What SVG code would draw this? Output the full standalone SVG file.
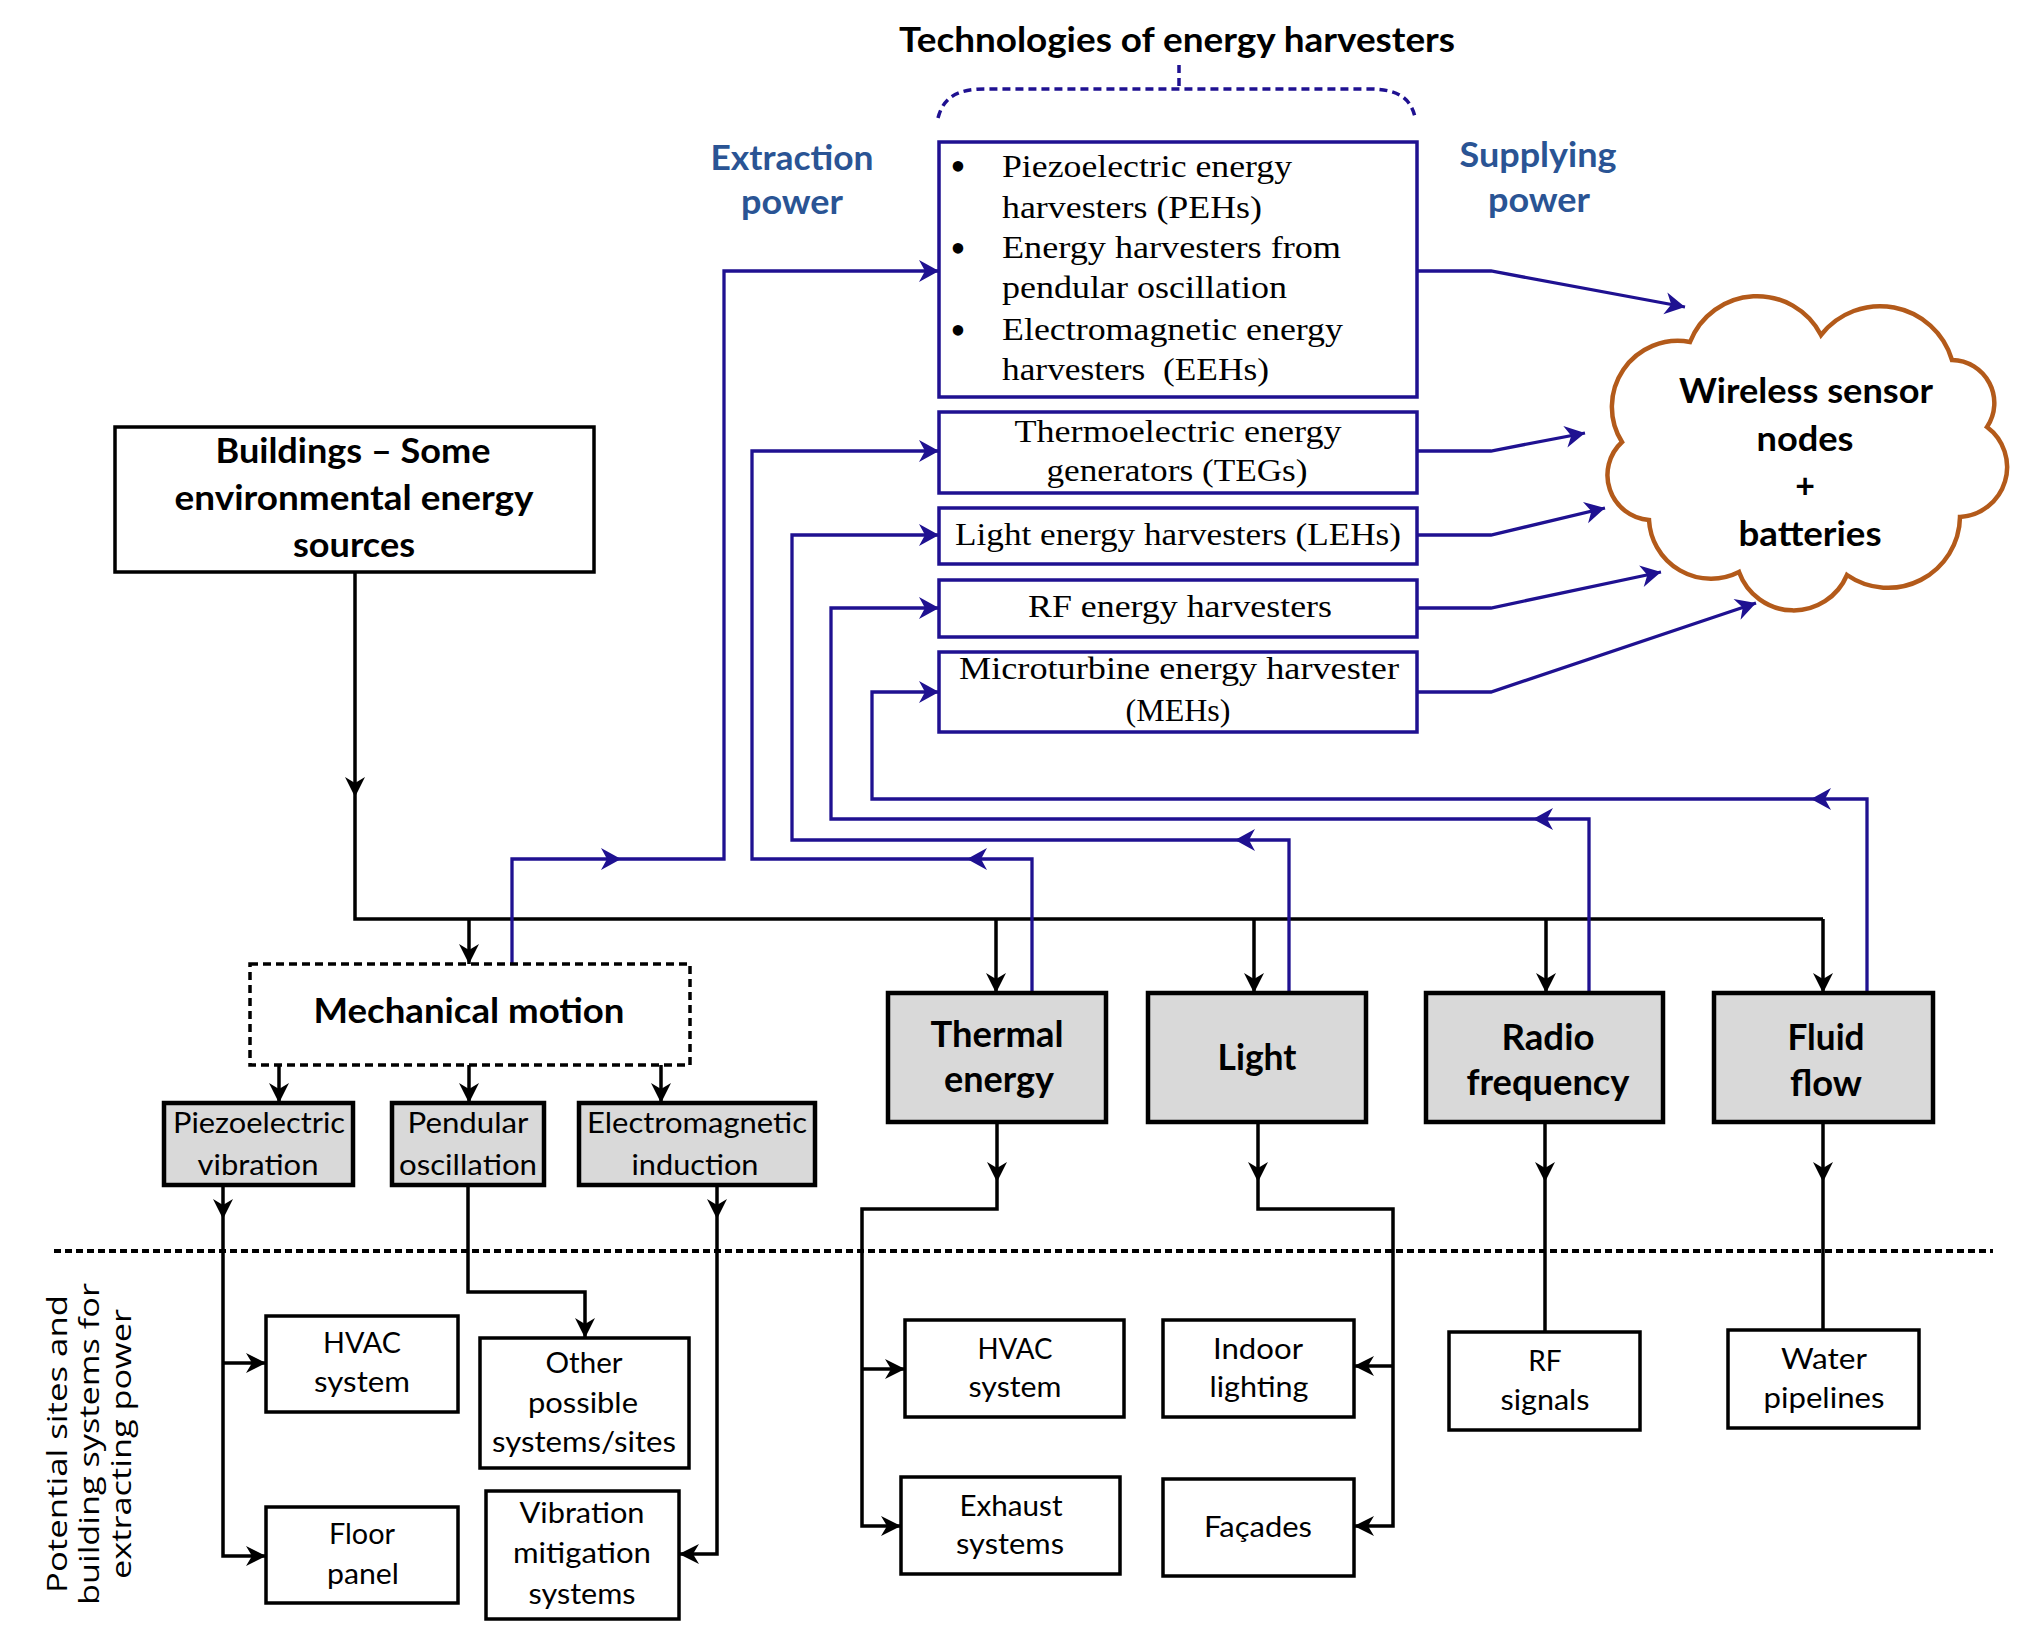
<svg xmlns="http://www.w3.org/2000/svg" width="2023" height="1633" viewBox="0 0 2023 1633">
<style>
.sb{font-family:Lato,"Open Sans","Liberation Sans",sans-serif;font-weight:700;fill:#000}
.sr{font-family:Lato,"Open Sans","Liberation Sans",sans-serif;font-weight:400;fill:#000}
.bt{fill:#2a5494}
.sf{font-family:"Liberation Serif",serif;font-size:32px;fill:#000}
.bul{font-family:"Liberation Serif",serif;font-size:44px;fill:#000}
.bbox{fill:#fff;stroke:#1f1191;stroke-width:3.5}
.gbox{fill:#d9d9d9;stroke:#000;stroke-width:4.5}
.wbox{fill:#fff;stroke:#000;stroke-width:3.5}
.bl{fill:none;stroke:#1f1191;stroke-width:3.3}
.kl{fill:none;stroke:#000;stroke-width:3.5}
.t34{font-size:34px}
.t36{font-size:36px}
.t28{font-size:28px}
</style>
<defs>
<marker id="ak" markerUnits="userSpaceOnUse" markerWidth="24" markerHeight="24" viewBox="-22 -12 24 24" refX="0" refY="0" orient="auto" overflow="visible"><path d="M0,0 L-20,-10 L-14,0 L-20,10 Z" fill="#000"/></marker>
<marker id="ab" markerUnits="userSpaceOnUse" markerWidth="24" markerHeight="24" viewBox="-22 -12 24 24" refX="0" refY="0" orient="auto" overflow="visible"><path d="M0,0 L-20,-11 L-14,0 L-20,11 Z" fill="#1f1191"/></marker>
</defs>
<rect width="2023" height="1633" fill="#fff"/>

<g id="title">
<text class="sb t34" x="1177" y="52" text-anchor="middle" textLength="556" lengthAdjust="spacingAndGlyphs">Technologies of energy harvesters</text>
<path d="M938,118 C944,95 960,89 986,89 H1369 C1395,89 1410,96 1415,117" fill="none" stroke="#1f1191" stroke-width="3.5" stroke-dasharray="8 5"/>
<path d="M1179,65 V89" fill="none" stroke="#1f1191" stroke-width="3.5" stroke-dasharray="8 5"/>
</g>

<g id="extraction-label">
<text class="sb bt t34" x="792" y="170" text-anchor="middle" textLength="163" lengthAdjust="spacingAndGlyphs">Extraction</text>
<text class="sb bt t34" x="792" y="214" text-anchor="middle" textLength="102" lengthAdjust="spacingAndGlyphs">power</text>
</g>
<g id="supplying-label">
<text class="sb bt t34" x="1538" y="167" text-anchor="middle" textLength="157" lengthAdjust="spacingAndGlyphs">Supplying</text>
<text class="sb bt t34" x="1539" y="212" text-anchor="middle" textLength="102" lengthAdjust="spacingAndGlyphs">power</text>
</g>

<g id="connectors">
<path class="kl" d="M355,572 V797" marker-end="url(#ak)"/>
<path class="kl" d="M355,797 V919 H1823"/>
<path class="kl" d="M469,919 V964" marker-end="url(#ak)"/>
<path class="kl" d="M996,919 V993" marker-end="url(#ak)"/>
<path class="kl" d="M1254,919 V993" marker-end="url(#ak)"/>
<path class="kl" d="M1546,919 V993" marker-end="url(#ak)"/>
<path class="kl" d="M1823,919 V993" marker-end="url(#ak)"/>
<path class="kl" d="M279,1065 V1103" marker-end="url(#ak)"/>
<path class="kl" d="M469,1065 V1103" marker-end="url(#ak)"/>
<path class="kl" d="M661,1065 V1103" marker-end="url(#ak)"/>
<path class="kl" d="M223,1185 V1219" marker-end="url(#ak)"/>
<path class="kl" d="M223,1219 V1556 H266" marker-end="url(#ak)"/>
<path class="kl" d="M223,1363 H266" marker-end="url(#ak)"/>
<path class="kl" d="M468,1185 V1292 H585 V1338" marker-end="url(#ak)"/>
<path class="kl" d="M717,1185 V1219" marker-end="url(#ak)"/>
<path class="kl" d="M717,1219 V1554 H679" marker-end="url(#ak)"/>
<path class="kl" d="M997,1122 V1182" marker-end="url(#ak)"/>
<path class="kl" d="M997,1182 V1209 H862 V1526 H901" marker-end="url(#ak)"/>
<path class="kl" d="M862,1369 H905" marker-end="url(#ak)"/>
<path class="kl" d="M1258,1122 V1182" marker-end="url(#ak)"/>
<path class="kl" d="M1258,1182 V1209 H1393 V1526 H1354" marker-end="url(#ak)"/>
<path class="kl" d="M1393,1366 H1354" marker-end="url(#ak)"/>
<path class="kl" d="M1545,1122 V1182" marker-end="url(#ak)"/>
<path class="kl" d="M1545,1182 V1332"/>
<path class="kl" d="M1823,1122 V1182" marker-end="url(#ak)"/>
<path class="kl" d="M1823,1182 V1330"/>

<path class="bl" d="M512,964 V859 H621" marker-end="url(#ab)"/>
<path class="bl" d="M621,859 H724 V271 H939" marker-end="url(#ab)"/>
<path class="bl" d="M1032,993 V859 H967" marker-end="url(#ab)"/>
<path class="bl" d="M967,859 H752 V451 H939" marker-end="url(#ab)"/>
<path class="bl" d="M1289,993 V840 H1235" marker-end="url(#ab)"/>
<path class="bl" d="M1235,840 H792 V535 H939" marker-end="url(#ab)"/>
<path class="bl" d="M1589,993 V819 H1533" marker-end="url(#ab)"/>
<path class="bl" d="M1533,819 H831 V608 H939" marker-end="url(#ab)"/>
<path class="bl" d="M1867,993 V799 H1811" marker-end="url(#ab)"/>
<path class="bl" d="M1811,799 H872 V692 H939" marker-end="url(#ab)"/>

<path class="bl" d="M1417,271 H1491 L1685,307" marker-end="url(#ab)"/>
<path class="bl" d="M1417,451 H1491 L1585,433" marker-end="url(#ab)"/>
<path class="bl" d="M1417,535 H1491 L1605,508" marker-end="url(#ab)"/>
<path class="bl" d="M1417,608 H1491 L1661,572" marker-end="url(#ab)"/>
<path class="bl" d="M1417,692 H1491 L1756,603" marker-end="url(#ab)"/>
</g>

<g id="separator">
<path d="M54,1251 H1993" fill="none" stroke="#000" stroke-width="4" stroke-dasharray="7 4"/>
</g>

<g id="buildings">
<rect class="wbox" x="115" y="427" width="479" height="145" stroke-width="4"/>
<text class="sb t34" x="353" y="463" text-anchor="middle" textLength="275" lengthAdjust="spacingAndGlyphs">Buildings – Some</text>
<text class="sb t34" x="354" y="510" text-anchor="middle" textLength="359" lengthAdjust="spacingAndGlyphs">environmental energy</text>
<text class="sb t34" x="354" y="557" text-anchor="middle" textLength="122" lengthAdjust="spacingAndGlyphs">sources</text>
</g>

<g id="peh">
<rect class="bbox" x="939" y="142" width="478" height="255"/>
<text class="bul" x="958" y="181" text-anchor="middle">•</text>
<text class="bul" x="958" y="263" text-anchor="middle">•</text>
<text class="bul" x="958" y="345" text-anchor="middle">•</text>
<text class="sf" x="1002" y="177" textLength="290" lengthAdjust="spacingAndGlyphs">Piezoelectric energy</text>
<text class="sf" x="1002" y="218" textLength="260" lengthAdjust="spacingAndGlyphs">harvesters (PEHs)</text>
<text class="sf" x="1002" y="258" textLength="339" lengthAdjust="spacingAndGlyphs">Energy harvesters from</text>
<text class="sf" x="1002" y="298" textLength="285" lengthAdjust="spacingAndGlyphs">pendular oscillation</text>
<text class="sf" x="1002" y="340" textLength="341" lengthAdjust="spacingAndGlyphs">Electromagnetic energy</text>
<text class="sf" x="1002" y="380" textLength="267" lengthAdjust="spacingAndGlyphs" xml:space="preserve">harvesters  (EEHs)</text>
</g>

<g id="teg">
<rect class="bbox" x="939" y="412" width="478" height="81"/>
<text class="sf" x="1178" y="442" text-anchor="middle" textLength="327" lengthAdjust="spacingAndGlyphs">Thermoelectric energy</text>
<text class="sf" x="1177" y="481" text-anchor="middle" textLength="261" lengthAdjust="spacingAndGlyphs">generators (TEGs)</text>
</g>
<g id="leh">
<rect class="bbox" x="939" y="508" width="478" height="56"/>
<text class="sf" x="1178" y="545" text-anchor="middle" textLength="446" lengthAdjust="spacingAndGlyphs">Light energy harvesters (LEHs)</text>
</g>
<g id="rfh">
<rect class="bbox" x="939" y="580" width="478" height="57"/>
<text class="sf" x="1180" y="617" text-anchor="middle" textLength="304" lengthAdjust="spacingAndGlyphs">RF energy harvesters</text>
</g>
<g id="meh">
<rect class="bbox" x="939" y="652" width="478" height="80"/>
<text class="sf" x="1179" y="679" text-anchor="middle" textLength="440" lengthAdjust="spacingAndGlyphs">Microturbine energy harvester</text>
<text class="sf" x="1178" y="721" text-anchor="middle" textLength="105" lengthAdjust="spacingAndGlyphs">(MEHs)</text>
</g>

<g id="wsn">
<path d="M1690,342 A72,72 0 0 1 1821,335 A75,75 0 0 1 1952,360 A43,43 0 0 1 1987,427 A50,50 0 0 1 1960,517 A72,72 0 0 1 1847,575 A58,58 0 0 1 1739,572 A62,62 0 0 1 1649,520 A45,45 0 0 1 1622,442 A66,66 0 0 1 1690,342 Z" fill="#fff" stroke="#b35a1a" stroke-width="4.5" stroke-linejoin="miter"/>
<text class="sb t34" x="1806" y="403" text-anchor="middle" textLength="254" lengthAdjust="spacingAndGlyphs">Wireless sensor</text>
<text class="sb t34" x="1805" y="451" text-anchor="middle" textLength="97" lengthAdjust="spacingAndGlyphs">nodes</text>
<text class="sb t34" x="1805" y="498" text-anchor="middle">+</text>
<text class="sb t34" x="1810" y="546" text-anchor="middle" textLength="143" lengthAdjust="spacingAndGlyphs">batteries</text>
</g>

<g id="mechanical">
<rect x="250" y="964" width="440" height="101" fill="#fff" stroke="#000" stroke-width="3.5" stroke-dasharray="8 5"/>
<text class="sb t34" x="469" y="1023" text-anchor="middle" textLength="311" lengthAdjust="spacingAndGlyphs">Mechanical motion</text>
</g>

<g id="piezo">
<rect class="gbox" x="164" y="1103" width="189" height="82" stroke-width="4"/>
<text class="sr t28" x="259" y="1133" text-anchor="middle" textLength="172" lengthAdjust="spacingAndGlyphs">Piezoelectric</text>
<text class="sr t28" x="258" y="1175" text-anchor="middle" textLength="121" lengthAdjust="spacingAndGlyphs">vibration</text>
</g>
<g id="pendular">
<rect class="gbox" x="392" y="1103" width="152" height="82" stroke-width="4"/>
<text class="sr t28" x="468" y="1133" text-anchor="middle" textLength="121" lengthAdjust="spacingAndGlyphs">Pendular</text>
<text class="sr t28" x="468" y="1175" text-anchor="middle" textLength="138" lengthAdjust="spacingAndGlyphs">oscillation</text>
</g>
<g id="electromagnetic">
<rect class="gbox" x="579" y="1103" width="236" height="82" stroke-width="4"/>
<text class="sr t28" x="697" y="1133" text-anchor="middle" textLength="220" lengthAdjust="spacingAndGlyphs">Electromagnetic</text>
<text class="sr t28" x="695" y="1175" text-anchor="middle" textLength="127" lengthAdjust="spacingAndGlyphs">induction</text>
</g>

<g id="thermal">
<rect class="gbox" x="888" y="993" width="218" height="129"/>
<text class="sb t36" x="997" y="1047" text-anchor="middle" textLength="133" lengthAdjust="spacingAndGlyphs">Thermal</text>
<text class="sb t36" x="999" y="1092" text-anchor="middle" textLength="110" lengthAdjust="spacingAndGlyphs">energy</text>
</g>
<g id="light">
<rect class="gbox" x="1148" y="993" width="218" height="129"/>
<text class="sb t36" x="1257" y="1070" text-anchor="middle" textLength="79" lengthAdjust="spacingAndGlyphs">Light</text>
</g>
<g id="radio">
<rect class="gbox" x="1426" y="993" width="237" height="129"/>
<text class="sb t36" x="1548" y="1050" text-anchor="middle" textLength="93" lengthAdjust="spacingAndGlyphs">Radio</text>
<text class="sb t36" x="1548" y="1095" text-anchor="middle" textLength="163" lengthAdjust="spacingAndGlyphs">frequency</text>
</g>
<g id="fluid">
<rect class="gbox" x="1714" y="993" width="219" height="129"/>
<text class="sb t36" x="1826" y="1050" text-anchor="middle" textLength="77" lengthAdjust="spacingAndGlyphs">Fluid</text>
<text class="sb t36" x="1826" y="1096" text-anchor="middle" textLength="72" lengthAdjust="spacingAndGlyphs">flow</text>
</g>

<g id="hvac-left">
<rect class="wbox" x="266" y="1316" width="192" height="96"/>
<text class="sr t28" x="362" y="1353" text-anchor="middle" textLength="78" lengthAdjust="spacingAndGlyphs">HVAC</text>
<text class="sr t28" x="362" y="1392" text-anchor="middle" textLength="96" lengthAdjust="spacingAndGlyphs">system</text>
</g>
<g id="floor-panel">
<rect class="wbox" x="266" y="1507" width="192" height="96"/>
<text class="sr t28" x="362" y="1544" text-anchor="middle" textLength="66" lengthAdjust="spacingAndGlyphs">Floor</text>
<text class="sr t28" x="363" y="1584" text-anchor="middle" textLength="72" lengthAdjust="spacingAndGlyphs">panel</text>
</g>
<g id="other-systems">
<rect class="wbox" x="480" y="1338" width="209" height="130"/>
<text class="sr t28" x="584" y="1373" text-anchor="middle" textLength="77" lengthAdjust="spacingAndGlyphs">Other</text>
<text class="sr t28" x="583" y="1413" text-anchor="middle" textLength="110" lengthAdjust="spacingAndGlyphs">possible</text>
<text class="sr t28" x="584" y="1452" text-anchor="middle" textLength="184" lengthAdjust="spacingAndGlyphs">systems/sites</text>
</g>
<g id="vibration-mitigation">
<rect class="wbox" x="486" y="1491" width="193" height="128"/>
<text class="sr t28" x="582" y="1523" text-anchor="middle" textLength="125" lengthAdjust="spacingAndGlyphs">Vibration</text>
<text class="sr t28" x="582" y="1563" text-anchor="middle" textLength="138" lengthAdjust="spacingAndGlyphs">mitigation</text>
<text class="sr t28" x="582" y="1604" text-anchor="middle" textLength="107" lengthAdjust="spacingAndGlyphs">systems</text>
</g>
<g id="hvac-right">
<rect class="wbox" x="905" y="1320" width="219" height="97"/>
<text class="sr t28" x="1015" y="1359" text-anchor="middle" textLength="75" lengthAdjust="spacingAndGlyphs">HVAC</text>
<text class="sr t28" x="1015" y="1397" text-anchor="middle" textLength="93" lengthAdjust="spacingAndGlyphs">system</text>
</g>
<g id="exhaust">
<rect class="wbox" x="901" y="1477" width="219" height="97"/>
<text class="sr t28" x="1011" y="1516" text-anchor="middle" textLength="103" lengthAdjust="spacingAndGlyphs">Exhaust</text>
<text class="sr t28" x="1010" y="1554" text-anchor="middle" textLength="108" lengthAdjust="spacingAndGlyphs">systems</text>
</g>
<g id="indoor-lighting">
<rect class="wbox" x="1163" y="1320" width="191" height="97"/>
<text class="sr t28" x="1258" y="1359" text-anchor="middle" textLength="90" lengthAdjust="spacingAndGlyphs">Indoor</text>
<text class="sr t28" x="1259" y="1397" text-anchor="middle" textLength="99" lengthAdjust="spacingAndGlyphs">lighting</text>
</g>
<g id="facades">
<rect class="wbox" x="1163" y="1479" width="191" height="97"/>
<text class="sr t28" x="1258" y="1537" text-anchor="middle" textLength="108" lengthAdjust="spacingAndGlyphs">Façades</text>
</g>
<g id="rf-signals">
<rect class="wbox" x="1449" y="1332" width="191" height="98"/>
<text class="sr t28" x="1545" y="1371" text-anchor="middle">RF</text>
<text class="sr t28" x="1545" y="1410" text-anchor="middle" textLength="89" lengthAdjust="spacingAndGlyphs">signals</text>
</g>
<g id="water-pipelines">
<rect class="wbox" x="1728" y="1330" width="191" height="98"/>
<text class="sr t28" x="1824" y="1369" text-anchor="middle" textLength="86" lengthAdjust="spacingAndGlyphs">Water</text>
<text class="sr t28" x="1824" y="1408" text-anchor="middle" textLength="121" lengthAdjust="spacingAndGlyphs">pipelines</text>
</g>

<g id="side-label" font-family="'Open Sans','DejaVu Sans',sans-serif" font-size="28" fill="#000">
<text transform="translate(67,1444) rotate(-90)" text-anchor="middle" textLength="298" lengthAdjust="spacingAndGlyphs">Potential sites and</text>
<text transform="translate(99,1444) rotate(-90)" text-anchor="middle" textLength="322" lengthAdjust="spacingAndGlyphs">building systems for</text>
<text transform="translate(131,1444) rotate(-90)" text-anchor="middle" textLength="270" lengthAdjust="spacingAndGlyphs">extracting power</text>
</g>
</svg>
